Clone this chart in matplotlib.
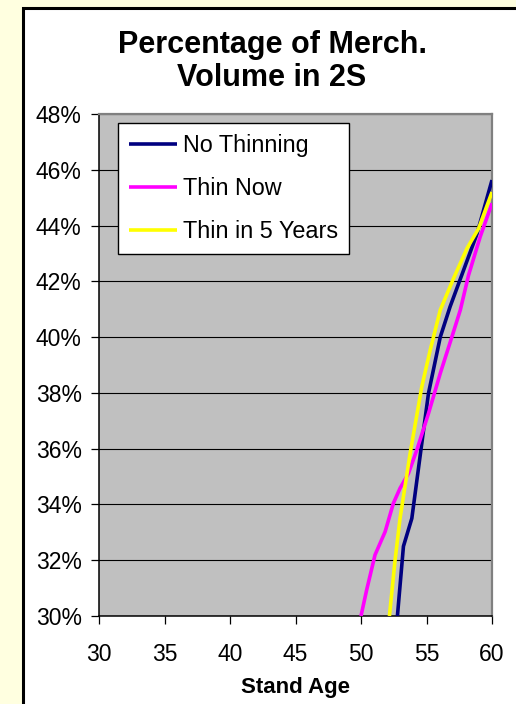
import matplotlib.pyplot as plt
from matplotlib.patches import Rectangle
from matplotlib.ticker import MultipleLocator, FuncFormatter

plt.rcParams['font.family'] = ['Liberation Sans', 'DejaVu Sans']

# stand age vs. percentage of merch. volume in 2S
age_no_thin = [52.78, 53.24, 53.88, 54.64, 55.15, 56.05, 56.8, 57.83, 58.85, 60.0]
pct_no_thin = [30.0, 32.5, 33.5, 36.19, 37.98, 40.0, 41.09, 42.4, 43.7, 45.63]

age_thin_now = [50.0, 50.43, 51.07, 51.84, 52.47, 52.98, 53.62, 54.26, 55.15,
                56.05, 56.94, 57.58, 58.21, 59.1, 60.0]
pct_thin_now = [30.0, 30.93, 32.19, 33.02, 34.04, 34.58, 35.11, 35.95, 37.26,
                38.7, 40.01, 40.97, 42.22, 43.6, 44.8]

age_thin_5 = [52.17, 52.6, 52.98, 53.75, 54.64, 55.28, 56.05, 57.06, 58.09, 58.98, 60.0]
pct_thin_5 = [30.0, 32.0, 33.5, 35.83, 38.22, 39.53, 40.97, 42.1, 43.18, 43.9, 45.2]

W, H = 516, 704
fig = plt.figure(figsize=(W / 100, H / 100), dpi=100)
fig.patch.set_facecolor('#FFFFE0')

# white chart area with black frame
fig.patches.append(Rectangle((23 / W, -0.05), 1.1, 1.05 - 8 / H,
                             transform=fig.transFigure, facecolor='white',
                             edgecolor='black', linewidth=2.2, zorder=-1))

ax = fig.add_axes([99 / W, 1 - 616 / H, (492 - 99) / W, (616 - 114) / H])
ax.set_facecolor('#C0C0C0')

ax.plot(age_no_thin, pct_no_thin, color='#000080', lw=2.6, label='No Thinning',
        solid_capstyle='butt', zorder=3)
ax.plot(age_thin_now, pct_thin_now, color='#FF00FF', lw=2.6, label='Thin Now',
        solid_capstyle='butt', zorder=3)
ax.plot(age_thin_5, pct_thin_5, color='#FFFF00', lw=2.6, label='Thin in 5 Years',
        solid_capstyle='butt', zorder=3)

ax.set_xlim(30, 60)
ax.set_ylim(30, 48)
ax.xaxis.set_major_locator(MultipleLocator(5))
ax.yaxis.set_major_locator(MultipleLocator(2))
ax.yaxis.set_major_formatter(FuncFormatter(lambda v, p: '%d%%' % round(v)))
ax.yaxis.grid(True, color='black', linewidth=0.8, zorder=1)
ax.set_axisbelow(True)

ax.tick_params(axis='both', direction='out', length=5.5, width=0.9,
               labelsize=16.5, color='black')
ax.tick_params(axis='y', pad=7)
ax.tick_params(axis='x', pad=14)

for side in ('left', 'bottom'):
    ax.spines[side].set_color('black')
    ax.spines[side].set_linewidth(1.1)
for side in ('top', 'right'):
    ax.spines[side].set_color('#808080')
    ax.spines[side].set_linewidth(1.6)

ax.set_xlabel('Stand Age', fontsize=16, fontweight='bold', labelpad=8)

fig.text(272 / W, 1 - 30 / H, 'Percentage of Merch.\nVolume in 2S',
         ha='center', va='top', fontsize=22, fontweight='bold', linespacing=1.15)

leg = ax.legend(loc='upper left', bbox_to_anchor=(118 / W, 1 - 123 / H),
                bbox_transform=fig.transFigure, fontsize=16.8, frameon=True,
                fancybox=False, framealpha=1, edgecolor='black',
                handlelength=2.06, handletextpad=0.26, labelspacing=0.87,
                borderpad=0.46, borderaxespad=0)
leg.get_frame().set_linewidth(1.0)

fig.savefig('out.png', dpi=100, facecolor=fig.get_facecolor())
